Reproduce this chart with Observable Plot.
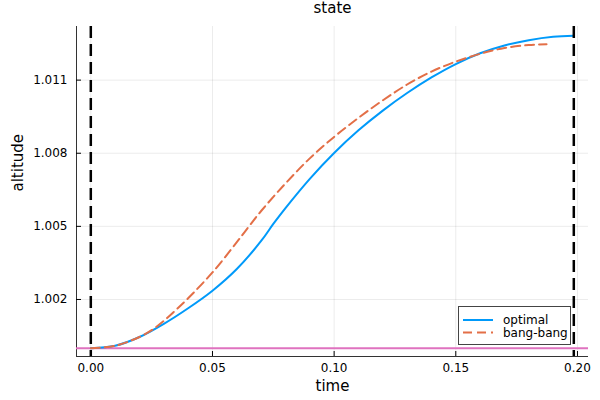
<!DOCTYPE html>
<html><head><meta charset="utf-8">
<script src="https://cdn.jsdelivr.net/npm/d3@7"></script>
<script src="https://cdn.jsdelivr.net/npm/@observablehq/plot@0.6"></script>
<style>
body{margin:0;background:#fff;font-family:"DejaVu Sans",sans-serif;}
#wrap{position:relative;width:600px;height:400px;}
#legend{position:absolute;left:458px;top:306px;width:113px;height:39px;border:1px solid #444;background:#fff;box-sizing:border-box;}
#legend svg{display:block;}
</style></head><body><div id="wrap"></div>
<script>
// optimal control trajectory: time and altitude
const tOptimal = [0, 0.01, 0.02, 0.03, 0.04, 0.05, 0.06, 0.07, 0.075, 0.08, 0.09, 0.10, 0.11, 0.12, 0.13, 0.14, 0.15, 0.16, 0.17, 0.18, 0.19, 0.1985];
const hOptimal = [1.00000, 1.00010, 1.00046, 1.00100, 1.00164, 1.00236, 1.00325, 1.00440, 1.00510, 1.00575, 1.00695, 1.00801, 1.00894, 1.00975, 1.01047, 1.01111, 1.01166, 1.01210, 1.01242, 1.01264, 1.01278, 1.01282];
// bang-bang trajectory
const tBang = [0, 0.01, 0.02, 0.025, 0.03, 0.035, 0.04, 0.05, 0.06, 0.065, 0.07, 0.08, 0.09, 0.10, 0.11, 0.12, 0.13, 0.14, 0.15, 0.16, 0.17, 0.18, 0.1873];
const hBang = [1.00000, 1.00010, 1.00046, 1.00074, 1.00112, 1.00157, 1.00205, 1.00311, 1.00435, 1.00500, 1.00563, 1.00676, 1.00779, 1.00867, 1.00945, 1.01017, 1.01082, 1.01135, 1.01176, 1.01208, 1.01232, 1.01244, 1.01247];
const boundaryTimes = [0, 0.1985];
const groundLevel = [1.0];
const xTicks = [0, 0.05, 0.10, 0.15, 0.20];
const yTicks = [1.002, 1.005, 1.008, 1.011];
const xDomain = [-0.00588, 0.20454];
const yDomain = [0.99966, 1.01320];
const seriesNames = ["optimal", "bang-bang"];
const seriesColors = ["#009AFA", "#E36F47"];
const seriesDash = [null, "9,5"];

const optimal = tOptimal.map((t, i) => ({t, h: hOptimal[i]}));
const bang = tBang.map((t, i) => ({t, h: hBang[i]}));

const chart = Plot.plot({
  width: 600, height: 400,
  marginLeft: 76, marginRight: 12, marginTop: 26, marginBottom: 44,
  style: {fontFamily: "DejaVu Sans", fontSize: "12px", color: "#000", background: "#fff"},
  x: {domain: xDomain},
  y: {domain: yDomain},
  marks: [
    Plot.gridX(xTicks, {stroke: "#000", strokeOpacity: 0.08}),
    Plot.gridY(yTicks, {stroke: "#000", strokeOpacity: 0.08}),
    Plot.ruleX([xDomain[0]], {stroke: "#333", strokeWidth: 1}),
    Plot.ruleY([yDomain[0]], {stroke: "#333", strokeWidth: 1}),
    Plot.axisX({ticks: xTicks, tickFormat: d3.format(".2f"), tickSize: -5, tickPadding: 12, label: null, fontSize: 12}),
    Plot.axisY({ticks: yTicks, tickFormat: d3.format(".3f"), tickSize: -5, tickPadding: 14, label: null, fontSize: 12}),
    Plot.ruleY(groundLevel, {stroke: "#df72bf", strokeWidth: 2}),
    Plot.line(optimal, {x: "t", y: "h", stroke: seriesColors[0], strokeWidth: 2, curve: "catmull-rom"}),
    Plot.line(bang, {x: "t", y: "h", stroke: seriesColors[1], strokeWidth: 2, strokeDasharray: seriesDash[1], curve: "catmull-rom"}),
    Plot.ruleX(boundaryTimes, {stroke: "#000", strokeWidth: 2.5, strokeDasharray: "12,6"}),
    Plot.text(["state"], {text: d => d, frameAnchor: "top", lineAnchor: "middle", dy: -18, fontSize: 15}),
    Plot.text(["time"], {text: d => d, frameAnchor: "bottom", lineAnchor: "middle", dy: 30, fontSize: 15}),
    Plot.text(["altitude"], {text: d => d, frameAnchor: "left", lineAnchor: "middle", dx: -58, rotate: -90, fontSize: 15})
  ]
});
const wrap = document.getElementById("wrap");
wrap.appendChild(chart);

// legend
const legend = document.createElement("div");
legend.id = "legend";
wrap.appendChild(legend);
const lsvg = d3.select(legend).append("svg").attr("width", 111).attr("height", 37);
seriesNames.forEach((name, i) => {
  const y = 13 + i * 12.5;
  lsvg.append("line").attr("x1", 4).attr("x2", 34).attr("y1", y).attr("y2", y)
    .attr("stroke", seriesColors[i]).attr("stroke-width", 2)
    .attr("stroke-dasharray", seriesDash[i]);
  lsvg.append("text").attr("x", 44).attr("y", y).attr("dy", "0.35em")
    .attr("font-family", "DejaVu Sans").attr("font-size", 12).attr("fill", "#000").text(name);
});
</script>
</body></html>
